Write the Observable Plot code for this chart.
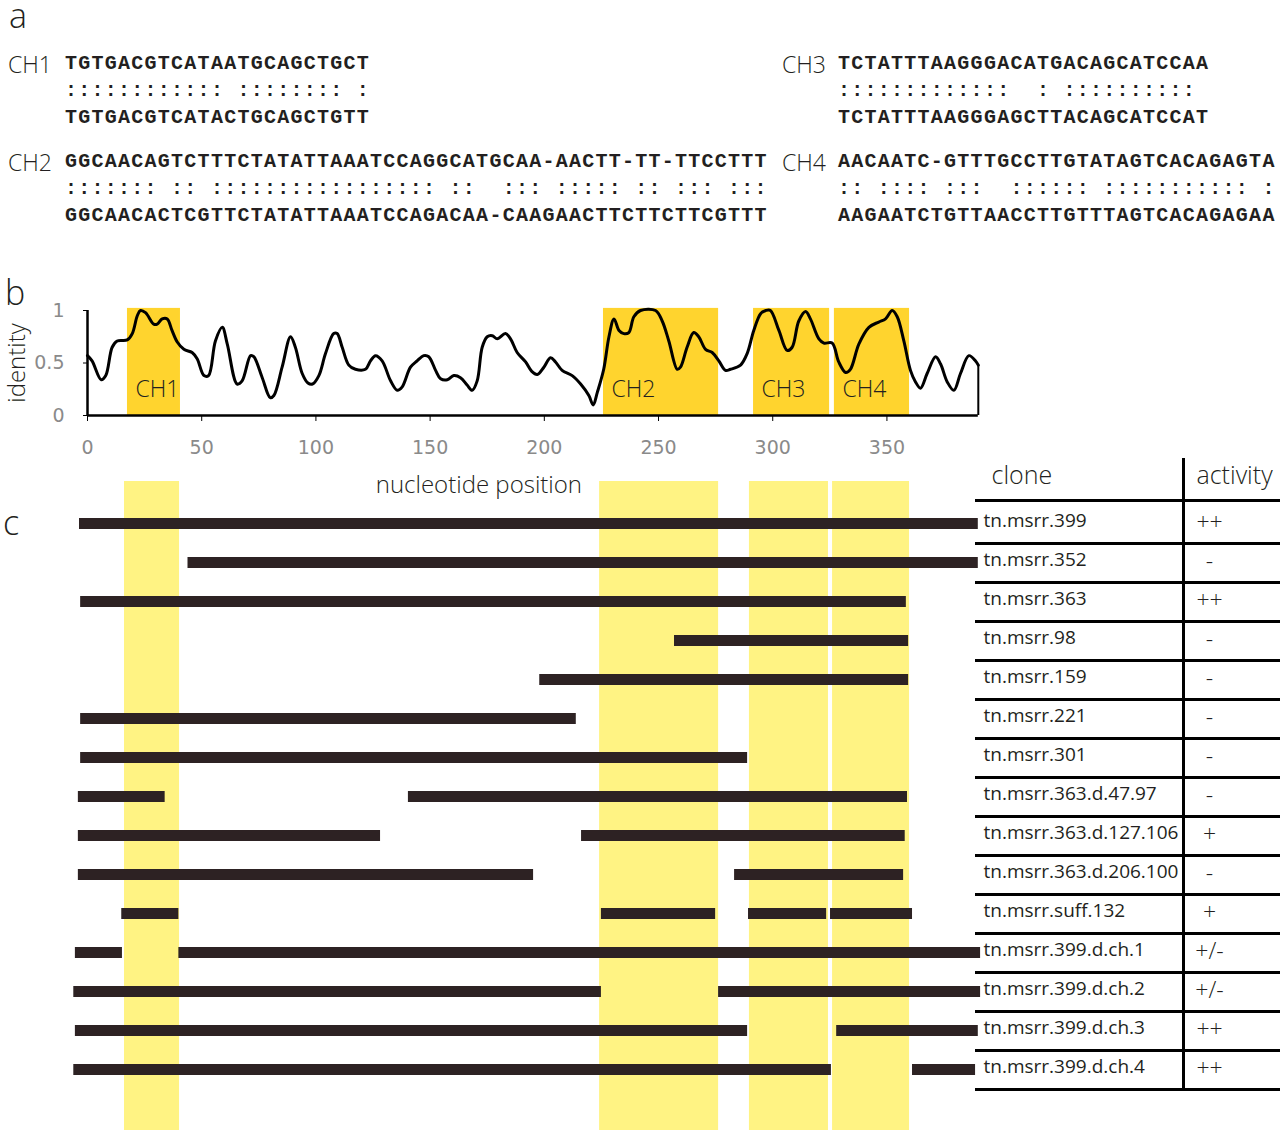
<!DOCTYPE html>
<html><head><meta charset="utf-8">
<script src="https://cdn.jsdelivr.net/npm/d3@7"></script>
<script src="https://cdn.jsdelivr.net/npm/@observablehq/plot@0.6"></script>
<style>
body{margin:0;background:#fff;}
#page{position:relative;width:1280px;height:1132px;overflow:hidden;background:#fff;}
#page > svg{position:absolute;overflow:visible;}
</style></head>
<body><div id="page"></div>
<script>
// ---------- DATA ----------
const alignLabels = ["CH1", "CH2", "CH3", "CH4"];
const alignTop = [
  "TGTGACGTCATAATGCAGCTGCT",
  "GGCAACAGTCTTTCTATATTAAATCCAGGCATGCAA-AACTT-TT-TTCCTTT",
  "TCTATTTAAGGGACATGACAGCATCCAA",
  "AACAATC-GTTTGCCTTGTATAGTCACAGAGTA"
];
const alignMatch = [
  ":::::::::::: :::::::: :",
  "::::::: :: ::::::::::::::::: ::  ::: ::::: :: ::: :::",
  ":::::::::::::  : :::::::::: ",
  ":: :::: :::  :::::: ::::::::::: :"
];
const alignBottom = [
  "TGTGACGTCATACTGCAGCTGTT",
  "GGCAACACTCGTTCTATATTAAATCCAGACAA-CAAGAACTTCTTCTTCGTTT",
  "TCTATTTAAGGGAGCTTACAGCATCCAT",
  "AAGAATCTGTTAACCTTGTTTAGTCACAGAGAA"
];

// identity profile: [nucleotide position, identity]
const identityProfile = [
  [0,0.57],[2,0.52],[6,0.34],[8,0.38],[10.8,0.65],[13,0.71],[17.4,0.72],[19.6,0.78],[21.8,0.95],[23.2,1.0],
  [25.4,0.98],[29,0.87],[30.5,0.87],[32.7,0.92],[34.9,0.92],[37,0.81],[39.3,0.70],[42.2,0.63],[45.8,0.60],[48,0.54],
  [51,0.38],[53,0.38],[56,0.71],[59,0.84],[61.2,0.68],[65.5,0.30],[67.7,0.33],[71.4,0.57],[72.8,0.56],[76.5,0.36],
  [80,0.17],[81.6,0.19],[85.2,0.46],[88.9,0.75],[91,0.65],[94,0.40],[96.5,0.31],[98.5,0.30],[101.3,0.38],[104.2,0.59],
  [107.8,0.78],[109.3,0.78],[111.5,0.65],[114.4,0.48],[117.3,0.44],[121.7,0.44],[123.9,0.52],[126.1,0.57],[129,0.52],[132.7,0.33],
  [135.6,0.24],[137.7,0.27],[141.4,0.46],[144.3,0.52],[147.2,0.57],[149.4,0.56],[152.4,0.43],[154.6,0.35],[157.5,0.34],[160.4,0.38],
  [163.3,0.36],[166.2,0.29],[168.4,0.24],[170.6,0.33],[172.8,0.65],[175,0.75],[177.2,0.76],[179.4,0.73],[183,0.78],[185.2,0.73],
  [188.1,0.60],[191.8,0.51],[194.5,0.42],[196.9,0.39],[199.8,0.46],[202.7,0.55],[204.9,0.51],[207.8,0.43],[212.2,0.38],[215.9,0.30],
  [219.5,0.19],[221.4,0.10],[223.2,0.22],[226,0.44],[228.3,0.75],[230.5,0.92],[232.7,0.81],[234.8,0.78],[237,0.79],[239.2,0.94],
  [242.1,1.0],[248.7,1.0],[251.6,0.90],[254.5,0.71],[258.2,0.44],[259.6,0.46],[262.5,0.65],[265.4,0.79],[267.6,0.75],[270.6,0.63],
  [273.5,0.60],[276.4,0.52],[279.3,0.43],[281.5,0.44],[285.9,0.48],[288.8,0.59],[291.7,0.81],[294.7,0.97],[297,1.0],[299,1.0],
  [302.7,0.81],[306.3,0.62],[308.5,0.65],[311.4,0.90],[314.4,0.99],[316.5,0.92],[320.2,0.73],[322.4,0.69],[326,0.69],[328.9,0.51],
  [331.9,0.41],[334,0.44],[337.7,0.68],[342.1,0.84],[346.4,0.89],[349.4,0.92],[352.3,1.0],[354.5,0.94],[357.4,0.71],[360.3,0.43],
  [362.5,0.32],[364.7,0.26],[367.6,0.40],[371.3,0.56],[373.5,0.49],[376.4,0.32],[379.3,0.24],[382.2,0.40],[385.9,0.57],[388.8,0.52],
  [390,0.48]
];

const regionNames = ["CH1", "CH2", "CH3", "CH4"];
const profileStart = [17.5, 225.9, 291.6, 327];
const profileEnd   = [40.7, 276.3, 324.9, 359.9];
const mapStart     = [16.2, 224.2, 289.8, 326.2];
const mapEnd       = [40.3, 276.3, 324.4, 359.9];

const xTicks = [0, 50, 100, 150, 200, 250, 300, 350];
const yTicks = [0, 0.5, 1];

const clones = [
  "tn.msrr.399", "tn.msrr.352", "tn.msrr.363", "tn.msrr.98", "tn.msrr.159",
  "tn.msrr.221", "tn.msrr.301", "tn.msrr.363.d.47.97", "tn.msrr.363.d.127.106",
  "tn.msrr.363.d.206.100", "tn.msrr.suff.132", "tn.msrr.399.d.ch.1",
  "tn.msrr.399.d.ch.2", "tn.msrr.399.d.ch.3", "tn.msrr.399.d.ch.4"
];
const activity = ["++", "-", "++", "-", "-", "-", "-", "-", "+", "-", "+", "+/-", "+/-", "++", "++"];
const fragments = [
  [[-3.5, 390]],
  [[44, 390]],
  [[-3, 358.5]],
  [[257, 359.5]],
  [[198, 359.5]],
  [[-3, 214]],
  [[-3, 289]],
  [[-4, 34], [140.5, 359]],
  [[-4, 128.3], [216.3, 358]],
  [[-4, 195.3], [283.3, 357.3]],
  [[15, 40], [225, 275], [289.4, 323.6], [325.3, 361.2]],
  [[-5.3, 15.3], [40, 391]],
  [[-6, 225], [276.3, 391]],
  [[-5.3, 289], [328, 390]],
  [[-6, 325.7], [361.2, 388.8]]
];
const tableHeader = ["clone", "activity"];

// ---------- DERIVED TABLES ----------
const profileRegions = regionNames.map((name, i) => ({name, x1: profileStart[i], x2: profileEnd[i]}));
const mapRegions = regionNames.map((name, i) => ({name, x1: mapStart[i], x2: mapEnd[i]}));
const segments = clones.flatMap((clone, i) => fragments[i].map(([start, end]) => ({clone, start, end})));
const tableRows = clones.map((clone, i) => ({clone, activity: activity[i]}));

const page = document.getElementById("page");
const SANS = "'Open Sans', 'DejaVu Sans', sans-serif";
const INK = "#231f20";

// ---------- PANEL A (text alignment) ----------
const a = d3.create("svg").attr("width", 1280).attr("height", 240)
  .style("left", "0px").style("top", "0px");
a.append("text").attr("x", 9).attr("y", 28).attr("font-family", SANS).attr("font-weight", 300)
  .attr("font-size", 34).attr("fill", INK).text("a");
const blocks = [
  {lx: 8, sx: 65, y: 0},
  {lx: 8, sx: 65, y: 98},
  {lx: 782, sx: 838, y: 0},
  {lx: 782, sx: 838, y: 98}
];
blocks.forEach((b, i) => {
  a.append("text").attr("x", b.lx).attr("y", 73 + b.y).attr("font-family", SANS).attr("font-weight", 300)
    .attr("font-size", 23).attr("fill", INK).text(alignLabels[i]);
  const rows = [[alignTop[i], 69], [alignMatch[i], 96], [alignBottom[i], 123]];
  rows.forEach(([s, yy]) => {
    a.append("text").attr("x", b.sx).attr("y", yy + b.y)
      .attr("font-family", "'Liberation Mono', monospace").attr("font-weight", "bold")
      .attr("font-size", 20).style("letter-spacing", "1.26px").attr("xml:space", "preserve")
      .style("white-space", "pre").attr("fill", INK).text(s);
  });
});
page.appendChild(a.node());

// ---------- PANEL B (identity profile) ----------
const last = identityProfile[identityProfile.length - 1];
const plotB = Plot.plot({
  width: 1000, height: 220,
  marginLeft: 87, marginRight: 22.2, marginTop: 30, marginBottom: 85,
  x: {domain: [0, 390]},
  y: {domain: [0, 1]},
  style: {background: "transparent", overflow: "visible"},
  marks: [
    Plot.rect(profileRegions, {x1: "x1", x2: "x2", y1: 0, y2: 1.02, fill: "#ffd42e"}),
    Plot.text(profileRegions, {x: "x1", y: 0.25, text: "name", textAnchor: "start", dx: 8,
      fontSize: 23, fontFamily: SANS, fontWeight: 300, fill: INK}),
    Plot.line(identityProfile, {x: d => d[0], y: d => d[1], stroke: "#000", strokeWidth: 3,
      curve: "catmull-rom", strokeLinejoin: "round"}),
    Plot.ruleX([last[0]], {y1: 0, y2: last[1], stroke: "#000", strokeWidth: 2}),
    Plot.ruleY([0], {x1: 0, x2: 390, stroke: "#000", strokeWidth: 2.5}),
    Plot.ruleX([0], {y1: 0, y2: 1, stroke: "#000", strokeWidth: 2.5}),
    Plot.axisX({ticks: xTicks, tickSize: 6, tickPadding: 19, fontSize: 19, fontFamily: "DejaVu Sans",
      stroke: "#000", fill: "#8a8a8a", label: null}),
    Plot.axisY({ticks: yTicks, tickSize: 4, tickPadding: 19, fontSize: 19, fontFamily: "DejaVu Sans",
      stroke: "#000", fill: "#8a8a8a", label: null, tickFormat: d => String(d)}),
    Plot.text(["identity"], {frameAnchor: "left", textAnchor: "middle", lineAnchor: "middle", rotate: -90, dx: -70,
      fontSize: 24, fontFamily: SANS, fontWeight: 300, fill: INK}),
    Plot.text(["nucleotide position"], {frameAnchor: "bottom", lineAnchor: "middle", dy: 70, dx: -54,
      fontSize: 24, fontFamily: SANS, fontWeight: 300, fill: INK})
  ]
});
plotB.style.left = "0px"; plotB.style.top = "280px";
page.appendChild(plotB);

// panel labels b, c
const lab = d3.create("svg").attr("width", 60).attr("height", 600).style("left", "0px").style("top", "270px");
lab.append("text").attr("x", 5).attr("y", 35).attr("font-family", SANS).attr("font-weight", 300)
  .attr("font-size", 34).attr("fill", INK).text("b");
lab.append("text").attr("x", 3).attr("y", 265).attr("font-family", SANS).attr("font-weight", 300)
  .attr("font-size", 34).attr("fill", INK).text("c");
page.appendChild(lab.node());

// ---------- PANEL C (clone map) ----------
const yRows = {type: "point", domain: clones, range: [71, 620], padding: 0, axis: null};
const plotC = Plot.plot({
  width: 1000, height: 682,
  marginLeft: 87, marginRight: 22.2, marginTop: 31, marginBottom: 2,
  x: {domain: [0, 390], axis: null},
  y: yRows,
  style: {background: "transparent", overflow: "visible"},
  marks: [
    Plot.rect(mapRegions, {x1: "x1", x2: "x2", fill: "#fff383"}),
    Plot.ruleY(segments, {y: "clone", x1: "start", x2: "end", stroke: "#2d2223", strokeWidth: 11})
  ]
});
plotC.style.left = "0px"; plotC.style.top = "450px";
page.appendChild(plotC);

// ---------- TABLE ----------
const plotT = Plot.plot({
  width: 305, height: 682,
  marginLeft: 0, marginRight: 0, marginTop: 8, marginBottom: 41,
  x: {type: "point", domain: tableHeader, range: [8, 234], padding: 0, axis: null},
  y: yRows,
  style: {background: "transparent", overflow: "visible"},
  marks: [
    Plot.ruleY(tableRows, {y: "clone", dy: 20, stroke: "#000", strokeWidth: 3}),
    Plot.ruleY([tableRows[0]], {y: "clone", dy: -23, stroke: "#000", strokeWidth: 3}),
    Plot.ruleX([tableHeader[1]], {dx: -26, stroke: "#000", strokeWidth: 3}),
    Plot.text(tableRows, {x: () => tableHeader[0], y: "clone", text: "clone", textAnchor: "start", dy: -3,
      fontSize: 19, fontFamily: SANS, fill: INK}),
    Plot.text(tableRows, {x: () => tableHeader[1], y: "clone", text: "activity", textAnchor: "middle", dy: -1,
      fontSize: 23, fontFamily: SANS, fontWeight: 300, fill: INK}),
    Plot.text([tableHeader[0]], {x: d => d, text: d => d, frameAnchor: "top", lineAnchor: "middle", dy: 17, dx: 8,
      textAnchor: "start", fontSize: 25, fontFamily: SANS, fontWeight: 300, fill: INK}),
    Plot.text([tableHeader[1]], {x: d => d, text: d => d, frameAnchor: "top", lineAnchor: "middle", dy: 17, dx: -13,
      textAnchor: "start", fontSize: 25, fontFamily: SANS, fontWeight: 300, fill: INK})
  ]
});
plotT.style.left = "975px"; plotT.style.top = "450px";
page.appendChild(plotT);
</script>
</body></html>
